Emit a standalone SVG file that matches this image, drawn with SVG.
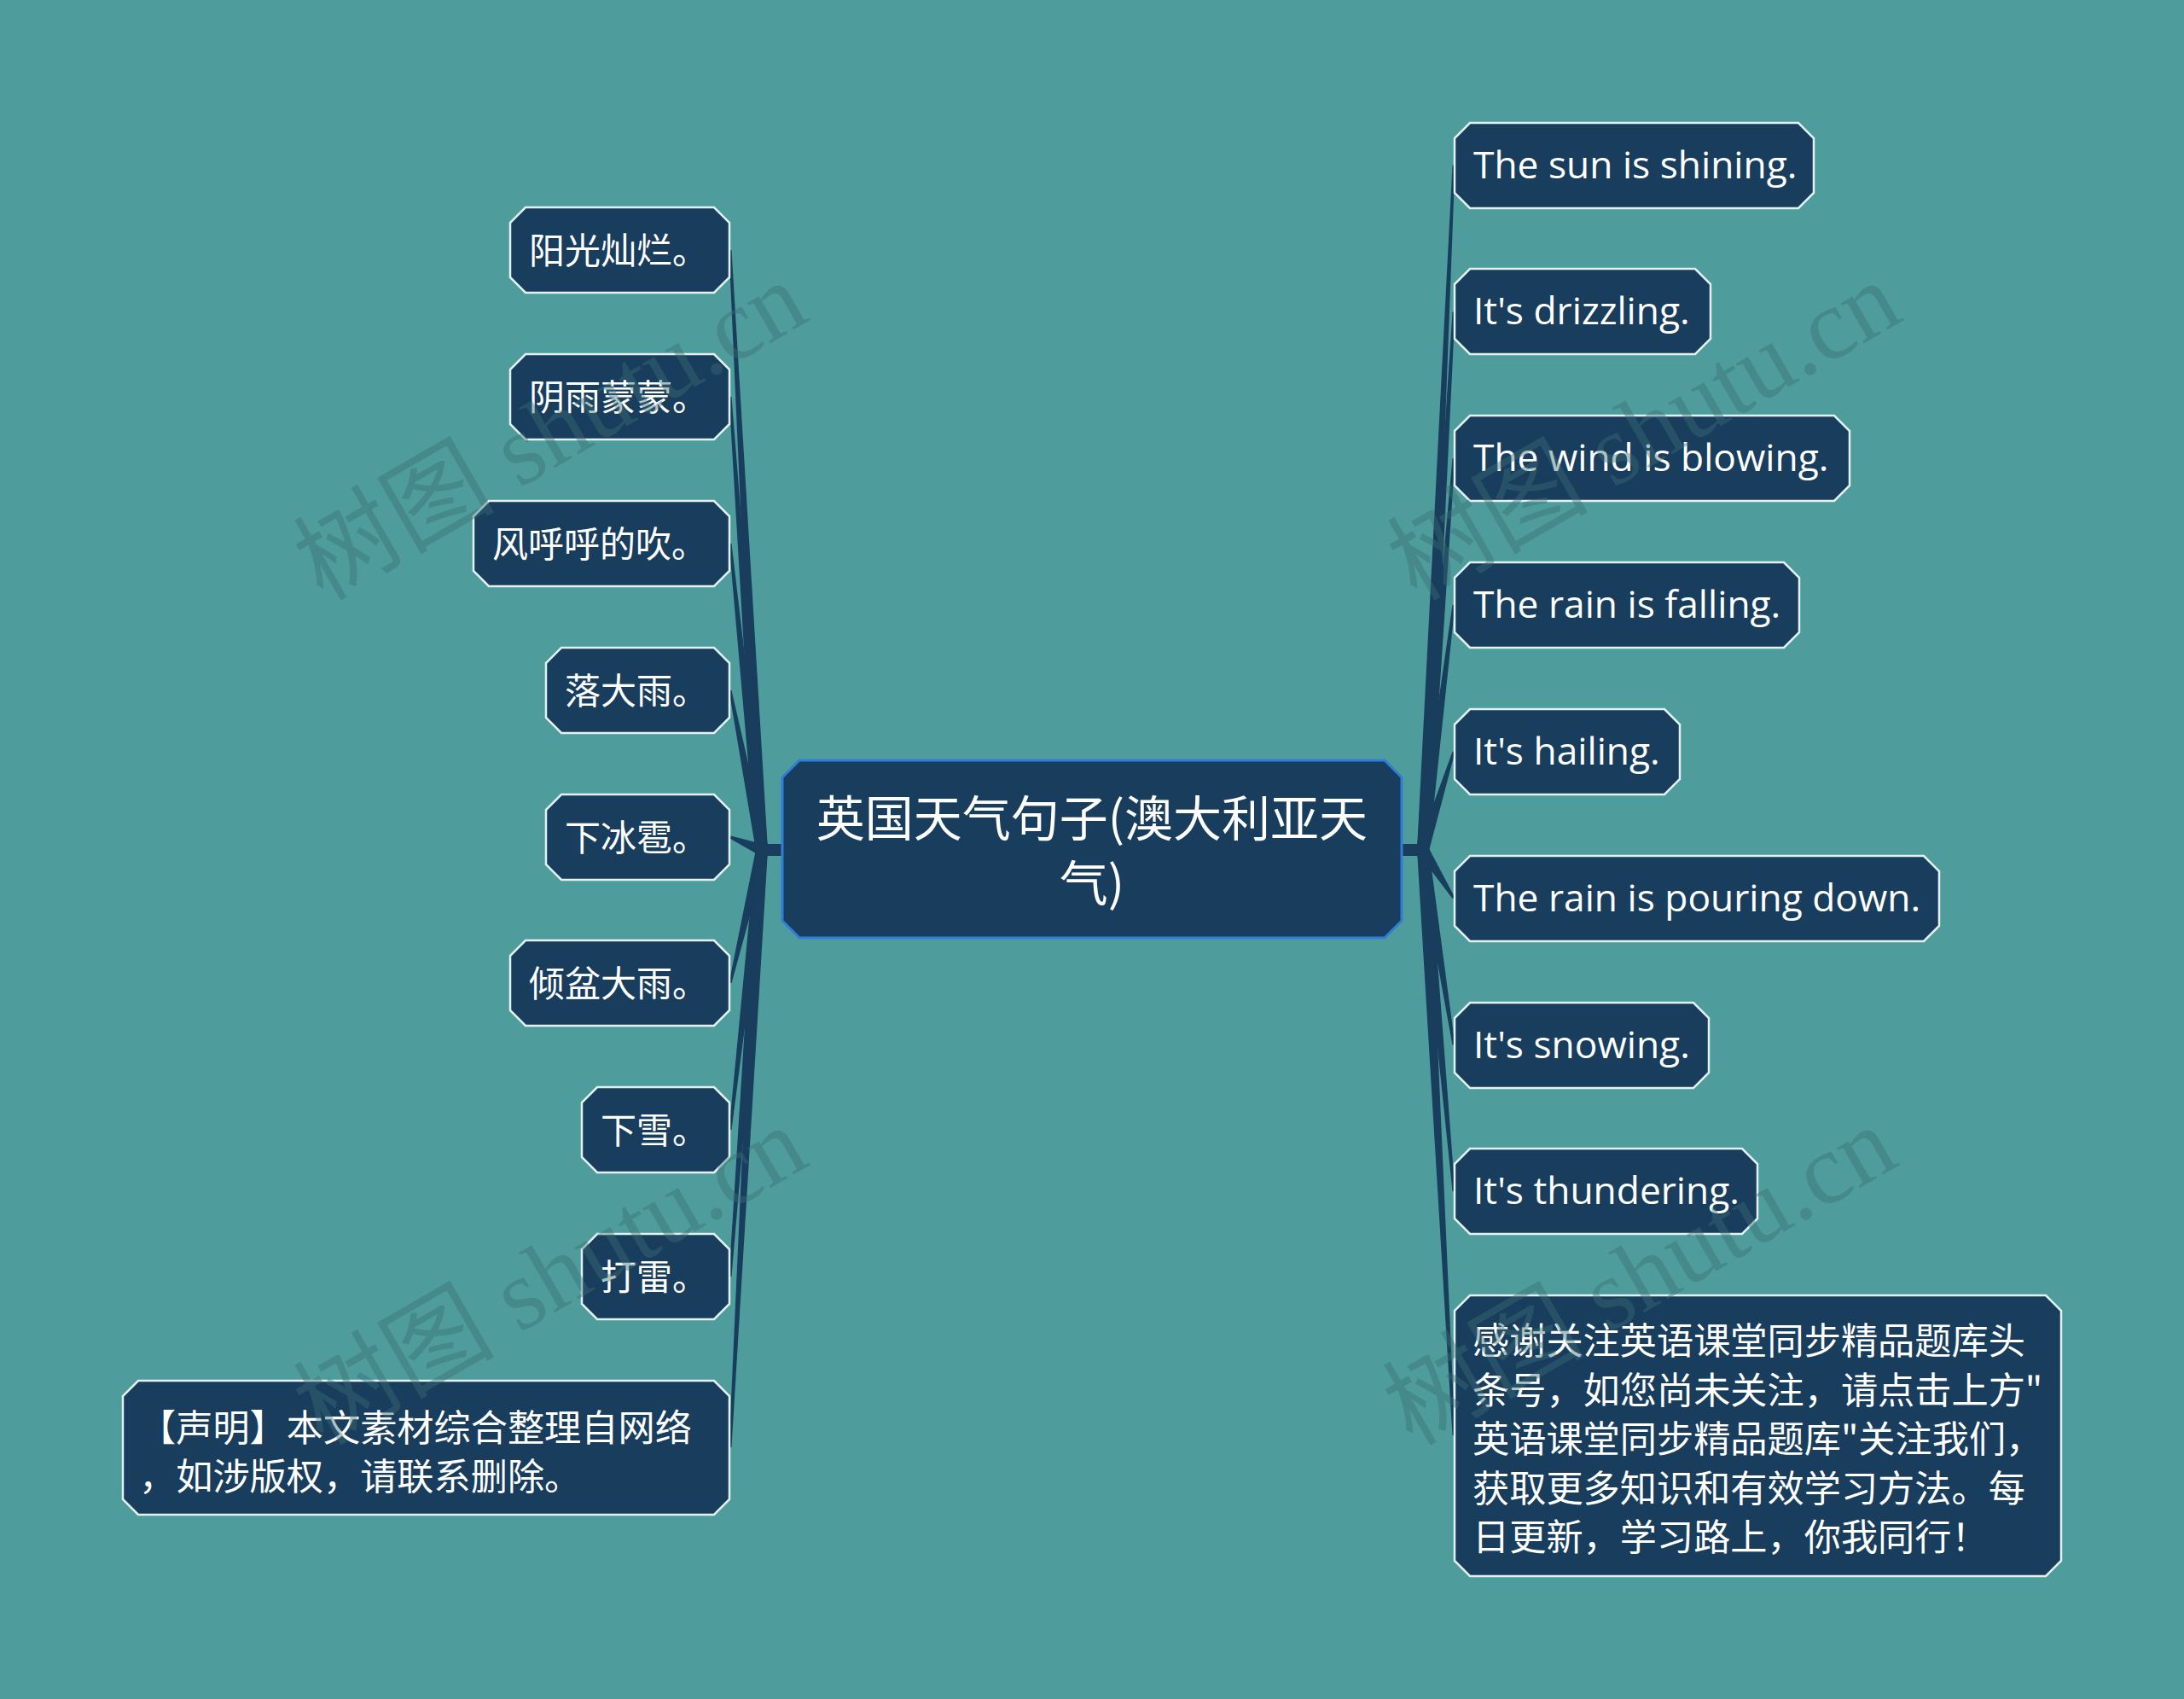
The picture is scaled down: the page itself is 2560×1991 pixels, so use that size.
<svg xmlns="http://www.w3.org/2000/svg" width="2560" height="1991" viewBox="0 0 2560 1991">
<style>
.bg{fill:#4e9d9c}
.n{fill:#183d5d;stroke:#e4f1f1;stroke-width:2.5}
.root{fill:#183d5d;stroke:#2f7fd8;stroke-width:3}
.c{fill:#183d5d}
.t{fill:#ffffff;font-family:"Noto Sans CJK SC","Noto Sans",sans-serif;font-size:42px}
.m{fill:#ffffff;font-family:"Noto Sans CJK SC","Noto Sans",sans-serif;font-size:43.2px}
.e{fill:#ffffff;font-family:"Open Sans","Noto Sans CJK SC",sans-serif;font-size:44.3px}
.rt{fill:#ffffff;font-family:"Noto Sans CJK SC","Noto Sans",sans-serif;font-size:57px;text-anchor:middle}
.wm{fill:#3c6e73;fill-opacity:0.42;font-family:"Liberation Serif","Noto Sans CJK SC",serif;font-size:118px;text-anchor:middle}
</style>
<rect class="bg" x="0" y="0" width="2560" height="1991"/>

<g id="connectors">
<rect class="c" x="893" y="989" width="25" height="14"/>
<rect class="c" x="1642" y="989" width="26" height="14"/>
<path class="c" d="M886,996 L900,996 L857.5,293 L854.5,293 Z"/>
<path class="c" d="M886,996 L900,996 L857.5,465 L854.5,465 Z"/>
<path class="c" d="M886,996 L900,996 L857.5,637 L854.5,637 Z"/>
<path class="c" d="M899.9,994.6 L857.5,808.7 L854.5,809.3 L886.1,997.4 Z"/>
<path class="c" d="M895.6,989.5 L856.6,979.6 L855.4,982.4 L890.4,1002.5 Z"/>
<path class="c" d="M886.2,994.4 L854.5,1151.7 L857.5,1152.3 L899.8,997.6 Z"/>
<path class="c" d="M886,996 L900,996 L857.5,1324 L854.5,1324 Z"/>
<path class="c" d="M886,996 L900,996 L857.5,1496 L854.5,1496 Z"/>
<path class="c" d="M886,996 L900,996 L857.5,1696 L854.5,1696 Z"/>
<path class="c" d="M1661,996 L1675,996 L1705.5,193.5 L1702.5,193.5 Z"/>
<path class="c" d="M1661,996 L1675,996 L1705.5,365.5 L1702.5,365.5 Z"/>
<path class="c" d="M1661,996 L1675,996 L1705.5,537 L1702.5,537 Z"/>
<path class="c" d="M1674.95,996.87 L1705.49,709.19 L1702.51,708.81 L1661.05,995.13 Z"/>
<path class="c" d="M1674.7,998.1 L1705.4,881.5 L1702.6,880.6 L1661.3,993.9 Z"/>
<path class="c" d="M1662.1,999.8 L1702.7,1053.3 L1705.3,1051.7 L1673.9,992.2 Z"/>
<path class="c" d="M1661.1,997.1 L1702.5,1224.7 L1705.5,1224.3 L1674.9,994.9 Z"/>
<path class="c" d="M1661,996 L1675,996 L1705.5,1396 L1702.5,1396 Z"/>
<path class="c" d="M1661,996 L1675,996 L1705.5,1682 L1702.5,1682 Z"/>
</g>

<g id="root">
<path class="root" d="M937,891 h686 l20,20 v168 l-20,20 h-686 l-20,-20 v-168 z"/>
<text class="rt" x="1280" y="980">英国天气句子(澳大利亚天</text>
<text class="rt" x="1280" y="1056">气)</text>
</g>

<g id="l1"><path class="n" d="M616,243 h221 l18,18 v64 l-18,18 h-221 l-18,-18 v-64 z"/><text class="t" x="620" y="309">阳光灿烂。</text></g>
<g id="l2"><path class="n" d="M616,415 h221 l18,18 v64 l-18,18 h-221 l-18,-18 v-64 z"/><text class="t" x="620" y="481">阴雨蒙蒙。</text></g>
<g id="l3"><path class="n" d="M573,587 h264 l18,18 v64 l-18,18 h-264 l-18,-18 v-64 z"/><text class="t" x="577" y="653">风呼呼的吹。</text></g>
<g id="l4"><path class="n" d="M658,759 h179 l18,18 v64 l-18,18 h-179 l-18,-18 v-64 z"/><text class="t" x="662" y="825">落大雨。</text></g>
<g id="l5"><path class="n" d="M658,931 h179 l18,18 v64 l-18,18 h-179 l-18,-18 v-64 z"/><text class="t" x="662" y="997">下冰雹。</text></g>
<g id="l6"><path class="n" d="M616,1102 h221 l18,18 v64 l-18,18 h-221 l-18,-18 v-64 z"/><text class="t" x="620" y="1168">倾盆大雨。</text></g>
<g id="l7"><path class="n" d="M700,1274 h137 l18,18 v64 l-18,18 h-137 l-18,-18 v-64 z"/><text class="t" x="704" y="1340">下雪。</text></g>
<g id="l8"><path class="n" d="M700,1446 h137 l18,18 v64 l-18,18 h-137 l-18,-18 v-64 z"/><text class="t" x="704" y="1512">打雷。</text></g>
<g id="l9"><path class="n" d="M162,1618 h675 l18,18 v121 l-18,18 h-675 l-18,-18 v-121 z"/>
<text class="m" x="163" y="1689">【声明】本文素材综合整理自网络</text>
<text class="m" x="163" y="1746">，如涉版权，请联系删除。</text></g>

<g id="r1"><path class="n" d="M1723,144 h385 l18,18 v64 l-18,18 h-385 l-18,-18 v-64 z"/><text class="e" x="1727" y="209">The sun is shining.</text></g>
<g id="r2"><path class="n" d="M1723,315 h264 l18,18 v64 l-18,18 h-264 l-18,-18 v-64 z"/><text class="e" x="1727" y="380">It's drizzling.</text></g>
<g id="r3"><path class="n" d="M1723,487 h427 l18,18 v64 l-18,18 h-427 l-18,-18 v-64 z"/><text class="e" x="1727" y="552">The wind is blowing.</text></g>
<g id="r4"><path class="n" d="M1723,659 h368 l18,18 v64 l-18,18 h-368 l-18,-18 v-64 z"/><text class="e" x="1727" y="724">The rain is falling.</text></g>
<g id="r5"><path class="n" d="M1723,831 h228 l18,18 v64 l-18,18 h-228 l-18,-18 v-64 z"/><text class="e" x="1727" y="896">It's hailing.</text></g>
<g id="r6"><path class="n" d="M1723,1003 h532 l18,18 v64 l-18,18 h-532 l-18,-18 v-64 z"/><text class="e" x="1727" y="1068">The rain is pouring down.</text></g>
<g id="r7"><path class="n" d="M1723,1175 h262 l18,18 v64 l-18,18 h-262 l-18,-18 v-64 z"/><text class="e" x="1727" y="1240">It's snowing.</text></g>
<g id="r8"><path class="n" d="M1723,1346 h319 l18,18 v64 l-18,18 h-319 l-18,-18 v-64 z"/><text class="e" x="1727" y="1411">It's thundering.</text></g>
<g id="r9"><path class="n" d="M1723,1518 h675 l18,18 v293 l-18,18 h-675 l-18,-18 v-293 z"/>
<text class="m" x="1726" y="1587">感谢关注英语课堂同步精品题库头</text>
<text class="m" x="1726" y="1645">条号，如您尚未关注，请点击上方"</text>
<text class="m" x="1726" y="1702">英语课堂同步精品题库"关注我们，</text>
<text class="m" x="1726" y="1760">获取更多知识和有效学习方法。每</text>
<text class="m" x="1726" y="1817">日更新，学习路上，你我同行！</text></g>

<g id="watermarks">
<text class="wm" transform="translate(645,505) rotate(-30)" x="0" y="40">树图 shutu.cn</text>
<text class="wm" transform="translate(1927,505) rotate(-30)" x="0" y="40">树图 shutu.cn</text>
<text class="wm" transform="translate(645,1495) rotate(-30)" x="0" y="40">树图 shutu.cn</text>
<text class="wm" transform="translate(1922,1495) rotate(-30)" x="0" y="40">树图 shutu.cn</text>
</g>
</svg>
